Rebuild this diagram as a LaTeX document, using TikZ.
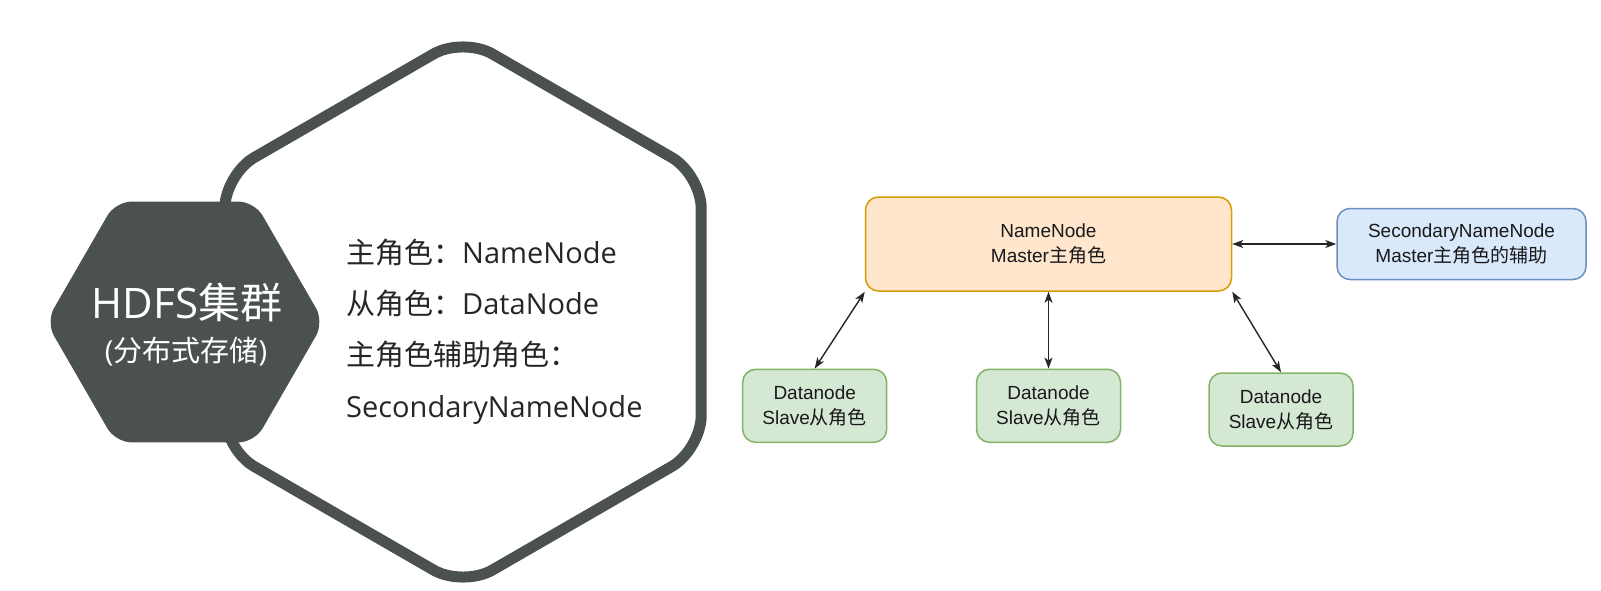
\documentclass[tikz,border=0pt]{standalone}
\usepackage{fontspec}
\setmainfont{Liberation Sans}
\newfontfamily\cjk{Noto Sans CJK SC}
\newfontfamily\osans{Open Sans}
\usetikzlibrary{arrows.meta}
\definecolor{hexdark}{RGB}{75,81,80}
\definecolor{nnfill}{HTML}{FFE6CC}
\definecolor{nndraw}{HTML}{D79B00}
\definecolor{snnfill}{HTML}{DAE8FC}
\definecolor{snndraw}{HTML}{6C8EBF}
\definecolor{dnfill}{HTML}{D5E8D4}
\definecolor{dndraw}{HTML}{82B366}
\newcommand\zhtxt[1]{{\cjk #1}}
\newcommand\ostxt[1]{{\osans #1}}
\tikzset{
  box/.style={rectangle, rounded corners=13pt, line width=1.5pt, align=center,
    font=\fontsize{19}{25}\selectfont, inner sep=0pt, text=black!90},
  nnbox/.style={box, fill=nnfill, draw=nndraw, minimum width=366pt, minimum height=94pt},
  snnbox/.style={box, fill=snnfill, draw=snndraw, minimum width=249pt, minimum height=71pt},
  dnbox/.style={box, fill=dnfill, draw=dndraw, minimum width=144pt, minimum height=73pt},
  arr/.style={line width=1.4pt, draw=black!85, {Stealth[length=11pt,width=8pt,inset=3pt]}-{Stealth[length=11pt,width=8pt,inset=3pt]}},
  roleline/.style={anchor=base west, inner sep=0pt, text=black!85, font=\fontsize{29}{29}\selectfont},
  hextitle/.style={anchor=base, inner sep=0pt, text=white}
}
\begin{document}
\begin{tikzpicture}[x=1pt,y=-1pt]
\useasboundingbox (0,0) rectangle (1601,591);
% large outlined hexagon (pointy top)
\draw[hexdark, line width=11pt, rounded corners=34pt]
  (463,37) -- (701.2,174.5) -- (701.2,449.5) -- (463,587) -- (224.8,449.5) -- (224.8,174.5) -- cycle;
% small filled hexagon (flat top)
\fill[hexdark, rounded corners=16pt]
  (46,322) -- (115.5,201.6) -- (254.5,201.6) -- (324,322) -- (254.5,442.4) -- (115.5,442.4) -- cycle;
\node[hextitle, font=\fontsize{42}{42}\selectfont] (title) at (187,318) {\ostxt{HDFS}\zhtxt{集群}};
\node[hextitle, font=\fontsize{29}{29}\selectfont] (subtitle) at (186,361) {\ostxt{(}\zhtxt{分布式存储}\ostxt{)}};
\node[roleline] (r1) at (346,263) {\zhtxt{主角色：}\ostxt{NameNode}};
\node[roleline] (r2) at (346,314.3) {\zhtxt{从角色：}\ostxt{DataNode}};
\node[roleline] (r3) at (346,365.6) {\zhtxt{主角色辅助角色：}};
\node[roleline] (r4) at (346,417) {\ostxt{SecondaryNameNode}};
% right diagram
\node[nnbox] (NN) at (1048.5,244) {NameNode\\Master\zhtxt{主角色}};
\node[snnbox] (SNN) at (1461.5,244) {SecondaryNameNode\\Master\zhtxt{主角色的辅助}};
\node[dnbox] (DN1) at (814.7,405.8) {Datanode\\Slave\zhtxt{从角色}};
\node[dnbox] (DN2) at (1048.5,405.8) {Datanode\\Slave\zhtxt{从角色}};
\node[dnbox] (DN3) at (1281,409.5) {Datanode\\Slave\zhtxt{从角色}};
\draw[arr] (NN.east) -- (SNN.west);
\draw[arr] (NN.south west) -- (DN1.north);
\draw[arr] (NN.south) -- (DN2.north);
\draw[arr] (NN.south east) -- (DN3.north);
\end{tikzpicture}
\end{document}
